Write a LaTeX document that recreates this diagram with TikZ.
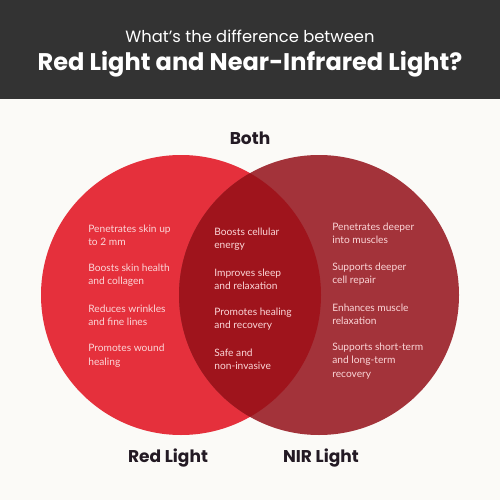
\documentclass[tikz,border=0pt]{standalone}
\usepackage{fontspec}
\setmainfont{Poppins}
\newfontfamily\bodyfont{Lato}
\usepackage{xcolor}
\usepackage{tikz}
\definecolor{header}{HTML}{333333}
\definecolor{paper}{HTML}{FBFAF7}
\definecolor{redlight}{HTML}{E5303C}
\definecolor{nirlight}{HTML}{A3333A}
\definecolor{overlap}{HTML}{9F141C}
\definecolor{ink}{HTML}{231A24}
\definecolor{pale}{HTML}{FBD6D8}

\begin{document}
\begin{tikzpicture}[
  x=0.02cm, y=-0.02cm,
  item/.style={anchor=west, align=left, text=pale, font=\bodyfont\fontsize{5.8}{7.6}\selectfont, inner sep=0pt},
  label/.style={text=ink, font=\bfseries\fontsize{9.7}{11}\selectfont},
  title/.style={text=white, inner sep=0pt}
]
\useasboundingbox (0,0) rectangle (500,500);
\fill[paper] (0,0) rectangle (500,500);
\fill[header] (0,0) rectangle (500,99);
\node[title, font=\fontsize{9.3}{11}\selectfont] (q1) at (250,36) {What’s the difference between};
\node[title, font=\bfseries\fontsize{13.7}{16}\selectfont] (q2) at (250,64) {Red Light and Near-Infrared Light?};
% circles
\fill[redlight] (181,295) circle (140);
\fill[nirlight] (319,295) circle (140);
\begin{scope}
  \clip (181,295) circle (140);
  \fill[overlap] (319,295) circle (140);
\end{scope}
\node[label] (both) at (250,138) {Both};
\node[label] (red) at (168,458) {Red Light};
\node[label] (nir) at (321,458) {NIR Light};
% red light only
\node[item] (r1) at (88,235) {Penetrates skin up\\to 2 mm};
\node[item] (r2) at (88,275) {Boosts skin health\\and collagen};
\node[item] (r3) at (88,315) {Reduces wrinkles\\and fine lines};
\node[item] (r4) at (88,355.5) {Promotes wound\\healing};
% both
\node[item] (b1) at (214,239) {Boosts cellular\\energy};
\node[item] (b2) at (214,279) {Improves sleep\\and relaxation};
\node[item] (b3) at (214,319) {Promotes healing\\and recovery};
\node[item] (b4) at (214,359) {Safe and\\non-invasive};
% nir only
\node[item] (n1) at (332,233.5) {Penetrates deeper\\into muscles};
\node[item] (n2) at (332,274) {Supports deeper\\cell repair};
\node[item] (n3) at (332,314) {Enhances muscle\\relaxation};
\node[item] (n4) at (332,361) {Supports short-term\\and long-term\\recovery};
\end{tikzpicture}
\end{document}
